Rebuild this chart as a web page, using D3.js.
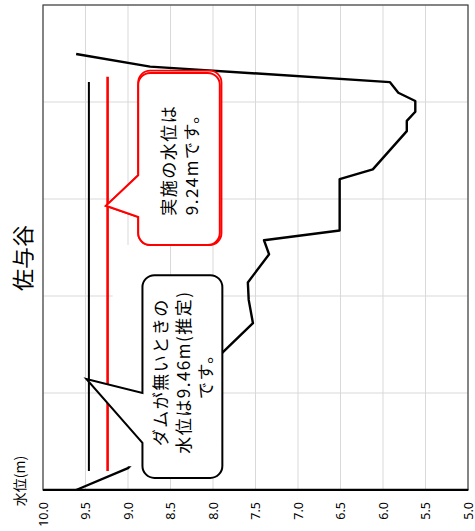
<!DOCTYPE html>
<html>
<head>
<meta charset="utf-8">
<script src="https://cdn.jsdelivr.net/npm/d3@7"></script>
<style>
  body { margin: 0; background: #fff; }
  svg { display: block; font-family: "Noto Sans CJK JP", "Noto Sans", sans-serif; }
</style>
</head>
<body>
<svg id="chart" width="475" height="531"></svg>
<script>
// values (level in m, distance in % of section width)
const levelTicks = [5, 5.5, 6, 6.5, 7, 7.5, 8, 8.5, 9, 9.5, 10];
const distanceGrid = [0, 20, 40, 60, 80, 100];

const sectionDistance = [0, 4.5, 8.2, 18.6, 28.5, 34.4, 39.2, 42.8, 48.6, 51.5, 53.5, 64.1, 66.1, 74.0, 76.1, 78.0, 80.2, 81.9, 84.1, 87.3, 89.9];
const sectionLevel    = [9.61, 9.0, 8.8, 8.33, 7.88, 7.53, 7.58, 7.59, 7.34, 7.40, 6.51, 6.51, 6.12, 5.72, 5.72, 5.62, 5.62, 5.82, 5.92, 8.74, 9.61];

const waterLevels = [9.46, 9.24];
const waterColors = ["#000000", "#ff0000"];
const waterFrom = [3.9, 3.9];
const waterTo = [84.1, 85.2];

// callouts: [distance from, to], [level high, low], pointer base distances, tip
const noteLines = [["ダムが無いときの", "水位は9.46m(推定)", "です。"], ["実施の水位は", "9.24mです。"]];
const noteColors = ["#000000", "#ff0000"];
const noteDist = [[2.5, 44.3], [50.5, 86.0]];
const noteLevel = [[8.83, 7.89], [8.88, 7.92]];
const noteBase = [[9.7, 20.0], [56.3, 64.9]];
const noteTip = [[22.9, 9.49], [58.6, 9.26]];
const noteTextDist = [24.3, 68.0];

const W = 485, H = 425;
const svg = d3.select("#chart");

// the whole chart is drawn upright then turned a quarter turn left
const g = svg.append("g").attr("transform", "translate(43,490) rotate(-90)");

const x = d3.scaleLinear().domain([0, 100]).range([0, W]);
const y = d3.scaleLinear().domain([5, 10]).range([H, 0]);

g.append("rect").attr("width", W).attr("height", H).attr("fill", "#fff");

// gridlines
g.append("g")
  .selectAll("line")
  .data(levelTicks)
  .join("line")
  .attr("x1", 0).attr("x2", W)
  .attr("y1", d => y(d)).attr("y2", d => y(d))
  .attr("stroke", "#d9d9d9").attr("stroke-width", 1);

g.append("g")
  .selectAll("line")
  .data(distanceGrid)
  .join("line")
  .attr("x1", d => x(d)).attr("x2", d => x(d))
  .attr("y1", 0).attr("y2", H)
  .attr("stroke", "#d9d9d9").attr("stroke-width", 1);

// river cross-section
const section = sectionDistance.map((d, i) => [d, sectionLevel[i]]);
g.append("path")
  .datum(section)
  .attr("fill", "none")
  .attr("stroke", "#000")
  .attr("stroke-width", 2.4)
  .attr("stroke-linejoin", "round")
  .attr("d", d3.line().x(d => x(d[0])).y(d => y(d[1])));

// water levels
g.append("g")
  .selectAll("line")
  .data(waterLevels)
  .join("line")
  .attr("x1", (d, i) => x(waterFrom[i])).attr("x2", (d, i) => x(waterTo[i]))
  .attr("y1", d => y(d)).attr("y2", d => y(d))
  .attr("stroke", (d, i) => waterColors[i])
  .attr("stroke-width", (d, i) => i ? 2.6 : 2);

// white area behind the lower callout (hides the grid there)
g.append("rect")
  .attr("x", x(4.9)).attr("width", x(50.5) - x(4.9))
  .attr("y", y(9.18)).attr("height", y(8.82) - y(9.18))
  .attr("fill", "#fff");

function calloutPath(i, ex, ey) {
  const x0 = x(noteDist[i][0]), x1 = x(noteDist[i][1]) + ex;
  const y0 = y(noteLevel[i][0]), y1 = y(noteLevel[i][1]) + ey;
  const b0 = x(noteBase[i][0]), b1 = x(noteBase[i][1]);
  const tx = x(noteTip[i][0]), ty = y(noteTip[i][1]);
  const r = 12;
  return `M${x0 + r},${y0} L${b0},${y0} L${tx},${ty} L${b1},${y0} L${x1 - r},${y0}` +
    ` A${r},${r} 0 0 1 ${x1},${y0 + r} L${x1},${y1 - r}` +
    ` A${r},${r} 0 0 1 ${x1 - r},${y1} L${x0 + r},${y1}` +
    ` A${r},${r} 0 0 1 ${x0},${y1 - r} L${x0},${y0 + r}` +
    ` A${r},${r} 0 0 1 ${x0 + r},${y0} Z`;
}

noteLines.forEach((lines, i) => {
  const note = g.append("g");
  if (i === 1) {
    note.append("path")
      .attr("d", calloutPath(i, 2.3, 1.7))
      .attr("fill", "#fff")
      .attr("stroke", noteColors[i])
      .attr("stroke-width", 1.8);
  }
  note.append("path")
    .attr("d", calloutPath(i, 0, 0))
    .attr("fill", "#fff")
    .attr("stroke", noteColors[i])
    .attr("stroke-width", 2);

  const cy = (y(noteLevel[i][0]) + y(noteLevel[i][1])) / 2;
  const step = i ? 23.5 : 22.5;
  note.selectAll("text")
    .data(lines)
    .join("text")
    .attr("x", x(noteTextDist[i]))
    .attr("y", (d, k) => cy + (k - (lines.length - 1) / 2) * step)
    .attr("text-anchor", "middle")
    .attr("dominant-baseline", "central")
    .attr("font-size", 17)
    .attr("letter-spacing", 1.5)
    .attr("fill", "#000")
    .text(d => d);
});

// level axis
const axis = g.append("g")
  .call(d3.axisLeft(y).tickValues(levelTicks).tickSize(0).tickPadding(12).tickFormat(d3.format(".1f")));
axis.select(".domain").attr("stroke", "#000").attr("stroke-width", 1.6);
axis.selectAll("text").attr("font-size", 12.5).attr("fill", "#000")
  .attr("font-family", "'Noto Sans', sans-serif");

// frame
g.append("rect").attr("width", W).attr("height", H)
  .attr("fill", "none").attr("stroke", "#404040").attr("stroke-width", 1.2);
g.append("line").attr("x1", 0).attr("x2", 0).attr("y1", 0).attr("y2", H)
  .attr("stroke", "#000").attr("stroke-width", 1.8);

// axis title and chart title
g.append("text")
  .attr("x", 490 - 481).attr("y", 19 - 43)
  .attr("text-anchor", "middle").attr("dominant-baseline", "central")
  .attr("font-size", 14).attr("fill", "#000")
  .text("水位(m)");

g.append("text")
  .attr("x", 490 - 258).attr("y", 21 - 43)
  .attr("text-anchor", "middle").attr("dominant-baseline", "central")
  .attr("font-size", 22).attr("fill", "#000")
  .text("佐与谷");
</script>
</body>
</html>
